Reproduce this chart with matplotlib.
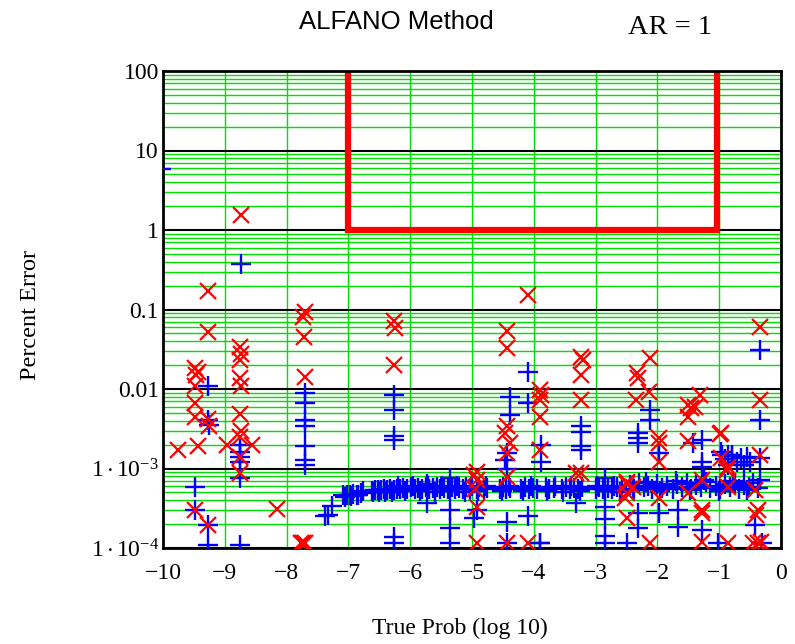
import matplotlib
matplotlib.use("Agg")
import matplotlib.pyplot as plt
from matplotlib.ticker import FixedLocator, LogLocator, NullFormatter

# ---------------- data (log10 true prob, percent error) ----------------
limit_x = [-7.0, -7.0, -1.04, -1.04]
limit_y = [100.0, 1.0, 1.0, 100.0]

# red "x" series
red_x = [-8.73, -9.27, -9.27, -9.48, -9.43, -9.46, -9.48, -9.48, -9.48, -9.27,
         -9.25, -9.75, -9.43, -8.97, -8.56, -8.75, -8.73, -8.75, -8.75, -8.73,
         -8.75, -8.73, -8.75, -8.75, -8.75, -8.16, -7.76, -7.73, -7.70, -7.70,
         -7.73, -7.72, -7.70, -9.48, -9.27, -6.27, -6.25, -6.27,
         -4.09, -4.44, -4.44, -3.90, -3.88, -3.90, -3.90, -4.44, -4.47, -4.39,
         -4.44, -4.44, -3.90, -3.23, -3.21, -3.23, -3.23, -3.23, -4.92, -4.92,
         -4.92, -4.95, -4.92, -4.44, -4.09, -2.50, -2.50, -2.53, -2.12, -2.33,
         -2.31, -2.14, -2.34, -1.31, -1.50, -1.45, -1.39, -1.50, -0.97, -0.99,
         -1.98, -1.98, -1.50, -1.98, -0.97, -0.86, -0.88, -0.34, -0.34, -0.34,
         -2.50, -2.40, -2.50, -1.98, -1.28, -1.50, -1.28, -1.28, -0.86, -0.42,
         -0.38, -0.40, -2.12, -1.28, -0.86, -0.45, -0.38, -0.32, -4.96, -3.31]
red_y = [1.55, 0.172, 0.052, 0.0182, 0.0166, 0.0151, 0.011, 0.0066, 0.0044, 0.0042,
         0.0034, 0.0017, 0.0019, 0.0020, 0.0020, 0.034, 0.0275, 0.023, 0.0136, 0.011,
         0.0049, 0.0030, 0.0025, 0.0014, 0.00087, 0.00031, 0.000115, 0.000115, 0.000115, 0.094,
         0.081, 0.045, 0.0143, 0.00030, 0.000195, 0.072, 0.058, 0.020,
         0.152, 0.053, 0.0325, 0.0097, 0.0084, 0.0073, 0.0045, 0.0034, 0.0028, 0.0021,
         0.00155, 0.00079, 0.0017, 0.0255, 0.023, 0.015, 0.0073, 0.00087, 0.00091, 0.00072,
         0.00033, 0.00056, 0.000115, 0.000115, 0.000115, 0.00064, 0.00024, 0.00043, 0.0243, 0.0158,
         0.0136, 0.0093, 0.0073, 0.0084, 0.0063, 0.0057, 0.0060, 0.0045, 0.0028, 0.0027,
         0.0024, 0.0021, 0.0022, 0.00122, 0.00135, 0.00105, 0.00096, 0.00148, 0.061, 0.0073,
         0.00068, 0.00059, 0.00049, 0.00042, 0.00072, 0.00049, 0.00030, 0.000275, 0.00059, 0.00054,
         0.00030, 0.00026, 0.000115, 0.000118, 0.000115, 0.000115, 0.000115, 0.00012, 0.00083, 0.00087]

# blue "+" series: scattered points
blue_x = [-10.03, -8.73, -9.27, -9.27, -9.25, -8.75, -8.75, -8.75, -8.75, -8.75,
          -9.48, -9.48, -9.27, -9.27, -8.75, -7.70, -7.70, -7.70, -7.70, -7.70,
          -7.70, -7.70, -6.27, -6.27, -6.27, -6.27, -6.27, -6.27, -7.38, -7.33,
          -7.27, -5.73, -5.73, -5.36, -5.36, -5.36, -5.36, -4.96, -4.44, -4.44,
          -4.09, -4.09, -4.39, -4.39, -4.44, -4.47, -3.88, -3.88, -3.90, -3.23,
          -3.23, -3.23, -3.23, -3.31, -2.85, -2.85, -2.85, -2.85, -2.85, -4.92,
          -4.09, -0.34, -0.34, -2.12, -2.12, -2.32, -2.32, -2.32, -1.98, -1.28,
          -1.42, -1.28, -1.28, -0.97, -0.86, -0.80, -0.34, -0.34, -2.32, -2.32,
          -1.98, -1.67, -1.67, -1.28, -0.42, -2.50, -1.02, -0.30, -4.44, -3.90]
blue_y = [5.8, 0.37, 0.011, 0.0041, 0.0035, 0.0020, 0.0016, 0.0014, 0.0012, 0.00076,
          0.00059, 0.00030, 0.000195, 0.00011, 0.00011, 0.0088, 0.0066, 0.0041, 0.0034, 0.0019,
          0.00128, 0.00111, 0.0084, 0.0054, 0.0026, 0.0023, 0.000138, 0.000115, 0.00025, 0.00026,
          0.00034, 0.00064, 0.00037, 0.00076, 0.00030, 0.00018, 0.000115, 0.00024, 0.00021, 0.0010,
          0.0166, 0.0066, 0.0080, 0.0047, 0.00155, 0.00128, 0.00197, 0.00122, 0.000115, 0.0034,
          0.0029, 0.0019, 0.0017, 0.00037, 0.00076, 0.00033, 0.00023, 0.00014, 0.000115, 0.00030,
          0.00025, 0.031, 0.0041, 0.0054, 0.0041, 0.0028, 0.0024, 0.0021, 0.00155, 0.0023,
          0.0021, 0.0012, 0.00105, 0.0016, 0.0015, 0.0015, 0.00135, 0.00072, 0.000275, 0.00018,
          0.000275, 0.00030, 0.000185, 0.00017, 0.000195, 0.000115, 0.000115, 0.000115, 0.000115, 0.000115]

# blue "+" series: the dense band near 5e-4 (upper row)
band_x = [-7.08, -7.03, -6.97, -6.92, -6.86, -6.80, -6.76,
          -6.62, -6.57, -6.52, -6.47, -6.42, -6.37, -6.32, -6.27, -6.22,
          -6.17, -6.11, -6.05, -5.99, -5.93, -5.87, -5.81, -5.75, -5.69, -5.63,
          -5.57, -5.51, -5.45, -5.39, -5.33, -5.27, -5.21, -5.15, -5.09, -5.03,
          -4.92, -4.88, -4.80, -4.76, -4.55, -4.50, -4.45, -4.38, -4.20, -4.15,
          -4.08, -4.02, -3.95, -3.80, -3.75, -3.68, -3.55, -3.48, -3.42, -3.35,
          -3.28, -3.22, -3.00, -2.95, -2.88, -2.80, -2.74, -2.65, -2.58,
          -2.45, -2.38, -2.30, -2.22, -2.15, -2.08, -2.00, -1.92, -1.85, -1.75,
          -1.68, -1.60, -1.52, -1.45, -1.38, -1.30, -1.22, -1.15, -1.05, -0.98,
          -0.90, -0.82, -0.75, -0.68, -0.60, -0.52, -0.45, -0.38,
          -0.95, -0.90, -0.85, -0.80, -0.72, -0.65, -0.60, -0.55, -0.50]
band_y = [4.6e-4, 4.7e-4, 4.6e-4, 4.8e-4, 4.7e-4, 4.9e-4, 5.2e-4,
          5.2e-4, 5.3e-4, 5.4e-4, 5.3e-4, 5.5e-4, 5.4e-4, 5.5e-4, 5.4e-4, 5.6e-4,
          5.5e-4, 5.7e-4, 5.6e-4, 5.8e-4, 5.6e-4, 5.7e-4, 5.5e-4, 5.8e-4, 5.6e-4, 5.7e-4,
          5.9e-4, 5.6e-4, 5.7e-4, 5.5e-4, 5.8e-4, 5.6e-4, 5.7e-4, 5.5e-4, 5.8e-4, 5.6e-4,
          5.6e-4, 5.8e-4, 5.5e-4, 5.7e-4, 5.6e-4, 5.8e-4, 5.5e-4, 5.7e-4, 5.6e-4, 5.8e-4,
          5.5e-4, 5.7e-4, 5.6e-4, 5.8e-4, 5.5e-4, 5.7e-4, 5.6e-4, 5.9e-4, 5.5e-4, 5.7e-4,
          5.6e-4, 5.8e-4, 5.6e-4, 5.8e-4, 5.5e-4, 5.7e-4, 5.6e-4, 5.9e-4, 5.6e-4,
          6.2e-4, 5.6e-4, 6.6e-4, 5.8e-4, 6.0e-4, 5.5e-4, 6.4e-4, 5.7e-4, 6.1e-4, 5.5e-4,
          6.3e-4, 5.8e-4, 6.6e-4, 5.6e-4, 6.2e-4, 5.9e-4, 6.8e-4, 5.7e-4, 6.1e-4, 5.5e-4,
          6.4e-4, 5.8e-4, 6.6e-4, 5.6e-4, 6.2e-4, 5.8e-4, 6.5e-4, 5.7e-4,
          1.5e-3, 1.3e-3, 1.1e-3, 1.45e-3, 1.2e-3, 1.35e-3, 1.1e-3, 1.4e-3, 1.2e-3]

# blue "+" series: the dense band (lower / upper edge points)
band2_x = [-7.05, -6.95, -6.84, -6.60, -6.50, -6.40, -6.30, -6.20, -6.08, -5.96,
           -5.84, -5.72, -5.60, -5.48, -5.36, -5.24, -5.12, -5.00, -4.90, -4.78,
           -4.52, -4.40, -4.18, -4.05, -3.78, -3.66, -3.52, -3.40, -3.25, -2.98,
           -2.84, -2.70, -2.60, -2.40, -2.18, -1.95, -1.70, -1.48, -1.25, -1.00,
           -0.78, -0.55]
band2_y = [4.4e-4, 4.5e-4, 4.6e-4, 5.0e-4, 5.0e-4, 5.1e-4, 5.0e-4, 6.0e-4, 5.2e-4, 6.1e-4,
           5.2e-4, 6.0e-4, 5.1e-4, 6.1e-4, 5.2e-4, 6.0e-4, 5.1e-4, 6.1e-4, 5.2e-4, 6.0e-4,
           5.2e-4, 6.1e-4, 5.2e-4, 6.0e-4, 5.2e-4, 6.1e-4, 5.1e-4, 6.0e-4, 5.2e-4, 6.1e-4,
           5.2e-4, 6.0e-4, 5.1e-4, 5.3e-4, 6.8e-4, 5.2e-4, 7.0e-4, 5.3e-4, 7.2e-4, 5.2e-4,
           7.0e-4, 5.3e-4]

x_ticks = [-10, -9, -8, -7, -6, -5, -4, -3, -2, -1, 0]
x_tick_labels = ["\u221210", "\u22129", "\u22128", "\u22127", "\u22126", "\u22125",
                 "\u22124", "\u22123", "\u22122", "\u22121", "0"]
y_ticks = [1e-4, 1e-3, 1e-2, 1e-1, 1, 10, 100]
y_tick_labels = [r"$1\cdot10^{\mathbf{-}4}$", r"$1\cdot10^{\mathbf{-}3}$", "0.01", "0.1", "1", "10", "100"]

# ---------------- drawing ----------------
plt.rcParams["font.family"] = ["Liberation Serif", "DejaVu Serif"]
plt.rcParams["mathtext.fontset"] = "custom"
plt.rcParams["mathtext.rm"] = "Liberation Serif"
plt.rcParams["mathtext.bf"] = "Liberation Serif"
plt.rcParams["mathtext.it"] = "Liberation Serif:italic"

W, H = 795, 644
fig = plt.figure(figsize=(W / 100, H / 100), dpi=100)
ax = fig.add_axes([163 / W, 1 - 548 / H, (781 - 163) / W, (548 - 71) / H])

ax.set_yscale("log")
ax.set_xlim(-10, 0)
ax.set_ylim(1e-4, 100)

ax.xaxis.set_major_locator(FixedLocator(x_ticks))
ax.set_xticks(x_ticks)
ax.set_xticklabels(x_tick_labels)
ax.set_yticks(y_ticks)
ax.set_yticklabels(y_tick_labels)
ax.yaxis.set_minor_locator(LogLocator(base=10, subs=range(2, 10), numticks=30))
ax.yaxis.set_minor_formatter(NullFormatter())

ax.set_axisbelow(True)
ax.grid(which="minor", axis="y", color="#00e000", lw=1.0)
ax.grid(which="major", axis="y", color="black", lw=1.5)
ax.grid(which="major", axis="x", color="#00e000", lw=1.0)
ax.tick_params(which="both", length=0, labelsize=17)
ax.tick_params(axis="x", pad=11)
ax.tick_params(axis="y", pad=3)
for s in ax.spines.values():
    s.set_linewidth(2)
    s.set_color("black")

ax.plot(limit_x, limit_y, color="#ff0000", lw=4.5, solid_joinstyle="miter", zorder=2)
ax.plot(blue_x, blue_y, linestyle="none", marker="+", ms=14, mew=1.7, color="#0000ff", zorder=3)
ax.plot(band_x, band_y, linestyle="none", marker="+", ms=14, mew=1.7, color="#0000ff", zorder=3)
ax.plot(band2_x, band2_y, linestyle="none", marker="+", ms=14, mew=1.7, color="#0000ff", zorder=3)
ax.plot(red_x, red_y, linestyle="none", marker="x", ms=12, mew=1.6, color="#ff0000", zorder=4)

fig.text(396 / W, 1 - 22 / H, "ALFANO Method", ha="center", va="center",
         fontsize=18.5, family=["Liberation Sans Narrow", "Liberation Sans"])
fig.text(670 / W, 1 - 27 / H, "AR = 1", ha="center", va="center", fontsize=20.5)
fig.text(30 / W, 1 - 315 / H, "Percent Error", ha="center", va="center",
         rotation=90, fontsize=17.5)
fig.text(460 / W, 1 - 628 / H, "True Prob (log 10)", ha="center", va="center", fontsize=17)

fig.savefig("out.png", dpi=100)
